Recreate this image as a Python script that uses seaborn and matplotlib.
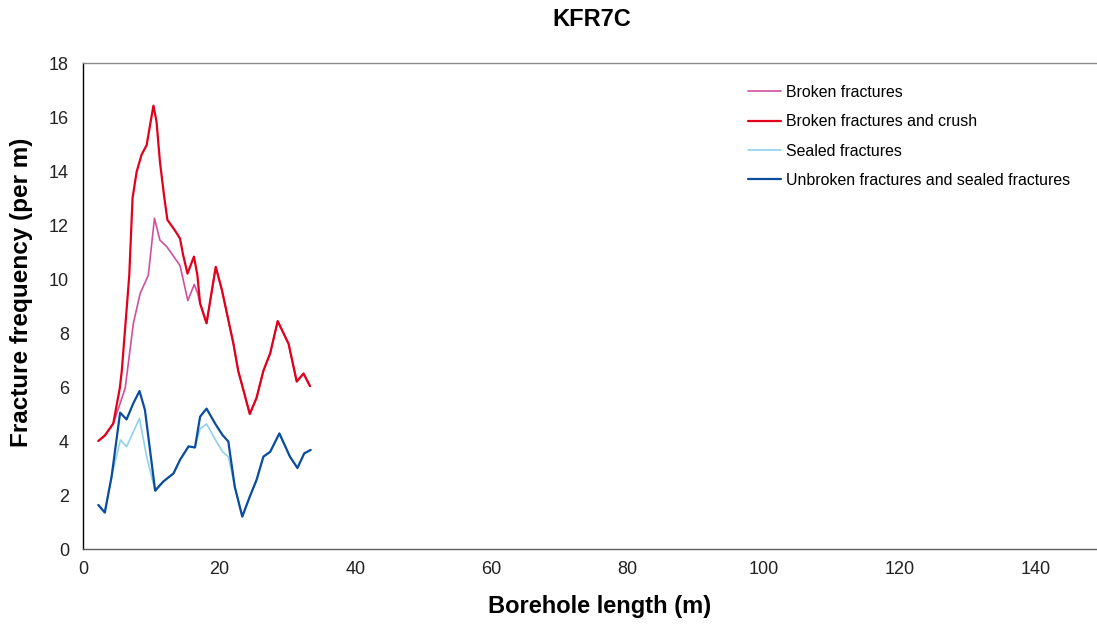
import matplotlib
matplotlib.use("Agg")
import matplotlib.pyplot as plt
import seaborn as sns
import pandas as pd

# ---- data ----
red_x = [2.25, 3.2, 4.45, 5.4, 5.7, 6.4, 6.8, 7.28, 7.88, 8.6, 9.35, 9.85, 10.35, 10.8, 11.3,
         11.9, 12.4, 13.5, 14.25, 14.7, 15.35, 16.3, 16.8, 17.2, 18.15, 19.5, 20.4, 22.1,
         22.8, 23.55, 24.5, 25.5, 26.5, 27.5, 28.6, 30.2, 31.4, 32.4, 33.35]
red_y = [4.0, 4.2, 4.65, 5.95, 6.6, 8.85, 10.15, 13.0, 13.97, 14.6, 14.96, 15.7, 16.42, 15.83, 14.35,
         13.1, 12.19, 11.8, 11.5, 10.9, 10.2, 10.83, 10.15, 9.1, 8.36, 10.45, 9.6, 7.6,
         6.6, 5.9, 5.0, 5.6, 6.6, 7.25, 8.44, 7.6, 6.2, 6.5, 6.03]

pink_x = [2.25, 3.2, 4.45, 5.2, 6.2, 7.4, 8.4, 9.35, 9.6, 10.5, 11.3, 12.3, 13.5, 14.25, 15.4,
          16.35, 16.8, 17.2, 18.15, 19.5, 20.4, 22.1, 22.8, 23.55, 24.5, 25.5, 26.5, 27.5,
          28.6, 30.2, 31.4, 32.4, 33.35]
pink_y = [4.0, 4.2, 4.65, 5.2, 5.96, 8.36, 9.47, 10.0, 10.15, 12.25, 11.44, 11.2, 10.77, 10.5, 9.2,
          9.8, 9.5, 9.1, 8.36, 10.45, 9.6, 7.6, 6.6, 5.9, 5.0, 5.6, 6.6, 7.25,
          8.44, 7.6, 6.2, 6.5, 6.03]

blue_x = [2.25, 3.2, 4.2, 5.45, 6.4, 7.4, 8.3, 9.1, 10.6, 11.8, 13.3, 14.25, 15.5, 16.45, 17.2,
          18.15, 19.4, 20.5, 21.35, 22.3, 23.4, 24.5, 25.5, 26.5, 27.5, 28.85, 30.4, 31.5, 32.5,
          33.45]
blue_y = [1.63, 1.35, 2.68, 5.05, 4.8, 5.4, 5.85, 5.15, 2.16, 2.5, 2.8, 3.3, 3.8, 3.76, 4.9,
          5.2, 4.65, 4.22, 3.98, 2.3, 1.2, 1.94, 2.56, 3.42, 3.6, 4.28, 3.42, 3.0, 3.54,
          3.67]

lblue_x = [2.25, 3.2, 4.2, 5.5, 6.4, 8.3, 9.35, 10.6, 11.8, 13.3, 14.25, 15.5, 16.45, 17.2,
           18.15, 19.6, 20.5, 21.35, 22.3, 23.4, 24.5, 25.5, 26.5, 27.5, 28.85, 30.4, 31.5,
           32.5, 33.45]
lblue_y = [1.63, 1.35, 2.68, 4.04, 3.79, 4.84, 3.42, 2.16, 2.5, 2.8, 3.3, 3.8, 3.76, 4.45,
           4.63, 3.98, 3.6, 3.42, 2.3, 1.2, 1.94, 2.56, 3.42, 3.6, 4.28, 3.42, 3.0,
           3.54, 3.67]

series = [
    ("Broken fractures", pink_x, pink_y, "#D0509E", 1.2),
    ("Broken fractures and crush", red_x, red_y, "#E3001B", 1.6),
    ("Sealed fractures", lblue_x, lblue_y, "#8FD2EC", 1.2),
    ("Unbroken fractures and sealed fractures", blue_x, blue_y, "#0A4C9E", 1.6),
]

x_ticks = [0, 20, 40, 60, 80, 100, 120, 140]
y_ticks = [0, 2, 4, 6, 8, 10, 12, 14, 16, 18]

sns.set_theme(style="white")
plt.rcParams['font.family'] = ['Liberation Sans', 'DejaVu Sans']

fig = plt.figure(figsize=(10.97, 6.25), dpi=100)
ax = fig.add_axes([83 / 1097, 1 - 549 / 625, 1013 / 1097, (549 - 63) / 625])

for label, xs, ys, color, lw in series:
    df = pd.DataFrame({"x": xs, "y": ys})
    sns.lineplot(data=df, x="x", y="y", ax=ax, color=color, linewidth=lw,
                 label=label, sort=False, estimator=None)

ax.set_xlim(0, 1013 / 6.807)
ax.set_ylim(0, 18)
ax.set_xticks(x_ticks)
ax.set_yticks(y_ticks)
ax.tick_params(axis='both', labelsize=13, colors='#222222', direction='out')
ax.tick_params(axis='y', length=4, width=0.8, color='black', pad=6)
ax.tick_params(axis='x', length=3, width=0.8, color='#555555', pad=6)

ax.spines['left'].set_color('black')
ax.spines['left'].set_linewidth(1.0)
ax.spines['bottom'].set_color('#606060')
ax.spines['bottom'].set_linewidth(1.0)
ax.spines['top'].set_color('#8a8a8a')
ax.spines['top'].set_linewidth(1.0)
ax.spines['right'].set_visible(False)

ax.set_xlabel("Borehole length (m)", fontsize=17, fontweight='bold', color='black')
ax.set_ylabel("Fracture frequency (per m)", fontsize=17.5, fontweight='bold', color='black')
ax.xaxis.label.set_va('center')
ax.yaxis.label.set_va('center')
ax.xaxis.set_label_coords((600 - 83) / 1013, -(607 - 549) / 486)
ax.yaxis.set_label_coords(-(83 - 22) / 1013, (549 - 292) / 486)

fig.text(592 / 1097, 1 - 20 / 625, "KFR7C", ha='center', va='center',
         fontsize=17, fontweight='bold', color='black')

leg = ax.legend(loc='upper left', bbox_to_anchor=(748 / 1097, 1 - 85 / 625),
                bbox_transform=fig.transFigure, frameon=False, fontsize=11.4,
                handlelength=2.1, handletextpad=0.3, labelspacing=0.9,
                borderpad=0, borderaxespad=0)
for t in leg.get_texts():
    t.set_color('black')

fig.savefig("out.png", dpi=100)
